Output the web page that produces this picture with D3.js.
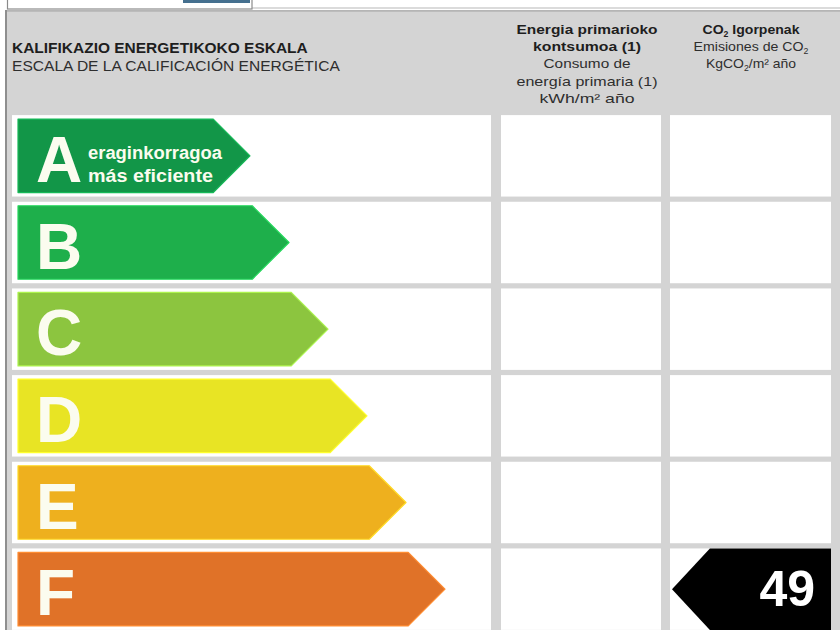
<!DOCTYPE html>
<html><head><meta charset="utf-8">
<script src="https://cdn.jsdelivr.net/npm/d3@7/dist/d3.min.js"></script>
<style>html,body{margin:0;padding:0;background:#fff;} svg{display:block;}</style>
</head><body>
<svg id="chart" width="840" height="630"></svg>
<script>
// ---------- data ----------
const grades = ["A", "B", "C", "D", "E", "F"];
const gradeColors = ["#129648", "#1eaf4b", "#8cc53f", "#e8e424", "#eeb01e", "#e07228"];
const gradeALines = ["eraginkorragoa", "más eficiente"];
const headerLeft = ["KALIFIKAZIO ENERGETIKOKO ESKALA", "ESCALA DE LA CALIFICACIÓN ENERGÉTICA"];
const headerEnergy = ["Energia primarioko", "kontsumoa (1)", "Consumo de", "energía primaria (1)", "kWh/m² año"];
const headerCO2 = ["CO_2 Igorpenak", "Emisiones de CO_2", "KgCO_2/m² año"];
const energyRating = [];                       // no value shown
const co2Rating = [{ grade: "F", value: 49 }];

// ---------- layout ----------
const W = 840, H = 630;
const FONT = "'Liberation Sans', Arial, Helvetica, sans-serif";
const cols = { scale: [12, 491], energy: [501, 661], co2: [670, 831] };
const svg = d3.select("#chart");

const y = d3.scaleBand().domain(grades).range([112.5, 632.5]).paddingInner(0.06).paddingOuter(0.03);
const tipX = d3.scaleLinear().domain([0, grades.length - 1]).range([250, 445]);

// top fragment
svg.append("line").attr("x1", 252).attr("x2", W).attr("y1", 8).attr("y2", 8)
  .attr("stroke", "#b8b8b8").attr("stroke-width", 1.2);
svg.append("rect").attr("x", 7.5).attr("y", -2).attr("width", 244.5).attr("height", 11)
  .attr("fill", "#fff").attr("stroke", "#8a8a8a").attr("stroke-width", 1.2);
svg.append("rect").attr("x", 183).attr("y", 0).attr("width", 67).attr("height", 3).attr("fill", "#45708f");

// panel
svg.append("rect").attr("x", 5).attr("y", 10.5).attr("width", W - 5).attr("height", H - 10.5)
  .attr("fill", "#d4d4d4");
svg.append("line").attr("x1", 5).attr("x2", W).attr("y1", 10.8).attr("y2", 10.8)
  .attr("stroke", "#a3a3a3").attr("stroke-width", 1.2);
svg.append("line").attr("x1", 6).attr("x2", 6).attr("y1", 10).attr("y2", H)
  .attr("stroke", "#8e8e8e").attr("stroke-width", 2);

// cells
Object.values(cols).forEach(([x0, x1]) => {
  svg.append("g").selectAll("rect").data(grades).join("rect")
    .attr("x", x0).attr("width", x1 - x0)
    .attr("y", d => y(d)).attr("height", y.bandwidth())
    .attr("fill", "#fff");
});

// text helper with horizontal fit
function fitText(parent, str, x, yy, width, anchor, size, weight, fill) {
  const g = parent.append("g").attr("transform", `translate(${x},${yy})`);
  const t = g.append("text").attr("text-anchor", anchor)
    .attr("font-family", FONT).attr("font-size", size).attr("font-weight", weight).attr("fill", fill);
  const parts = str.split(/(_2)/);
  let shifted = false;
  parts.forEach(p => {
    if (p === "_2") {
      t.append("tspan").attr("font-size", size * 0.62).attr("dy", 2.5).text("2");
      shifted = true;
    } else if (p.length) {
      const ts = t.append("tspan").text(p);
      if (shifted) { ts.attr("dy", -2.5); shifted = false; }
    }
  });
  const w = t.node().getComputedTextLength();
  if (width && w > 0) g.attr("transform", `translate(${x},${yy}) scale(${width / w},1)`);
  return g;
}

// headers
const hdr = svg.append("g");
const leftWidths = [296, 328];
const leftBase = [53, 70.5];
headerLeft.forEach((s, i) => fitText(hdr, s, 12, leftBase[i], leftWidths[i], "start", 14,
  i === 0 ? "bold" : "normal", i === 0 ? "#1e1e1e" : "#2e2e2e"));

const energyWidths = [141, 108, 87, 141, 95];
headerEnergy.forEach((s, i) => fitText(hdr, s, 587, 34 + i * 17.2, energyWidths[i], "middle", 13.4,
  i < 2 ? "bold" : "normal", i < 2 ? "#1e1e1e" : "#2e2e2e"));

const co2Widths = [97, 115, 90];
headerCO2.forEach((s, i) => fitText(hdr, s, 751, 34 + i * 17.2, co2Widths[i], "middle", 13.4,
  i < 1 ? "bold" : "normal", i < 1 ? "#1e1e1e" : "#2e2e2e"));

// grade arrows
const line = d3.line();
const inset = 4;
const arrows = svg.append("g");
grades.forEach((gr, i) => {
  const top = y(gr) + inset, bot = y(gr) + y.bandwidth() - inset;
  const mid = (top + bot) / 2, h = (bot - top) / 2;
  const tx = tipX(i), x0 = 18;
  arrows.append("path")
    .attr("d", line([[x0, top], [tx - h, top], [tx, mid], [tx - h, bot], [x0, bot]]) + "Z")
    .attr("fill", gradeColors[i])
    .attr("stroke", d3.color(gradeColors[i]).brighter(0.6)).attr("stroke-width", 1.2)
    .attr("stroke-linejoin", "round");
  arrows.append("text").attr("x", 36).attr("y", mid + 26)
    .attr("font-family", FONT).attr("font-size", 64).attr("font-weight", "bold")
    .attr("fill", "#fbfcef").text(gr);
  if (gr === "A") {
    fitText(arrows, gradeALines[0], 88, 159, 134, "start", 18, "bold", "#fbfcef");
    fitText(arrows, gradeALines[1], 88, 182, 125, "start", 18, "bold", "#fbfcef");
  }
});

// rating indicators
function drawRating(data, colKey) {
  const [c0, c1] = cols[colKey];
  data.forEach(d => {
    const top = y(d.grade), bot = y(d.grade) + y.bandwidth();
    const mid = (top + bot) / 2, h = (bot - top) / 2;
    const tip = c0 + 2;
    svg.append("path")
      .attr("d", line([[c1, top], [tip + h * 0.93, top], [tip, mid], [tip + h * 0.93, bot], [c1, bot]]) + "Z")
      .attr("fill", "#000");
    svg.append("text").attr("x", c1 - 16).attr("y", mid + 17)
      .attr("text-anchor", "end").attr("font-family", FONT).attr("font-size", 50)
      .attr("font-weight", "bold").attr("fill", "#fff").text(d.value);
  });
}
drawRating(energyRating, "energy");
drawRating(co2Rating, "co2");
</script>
</body></html>
